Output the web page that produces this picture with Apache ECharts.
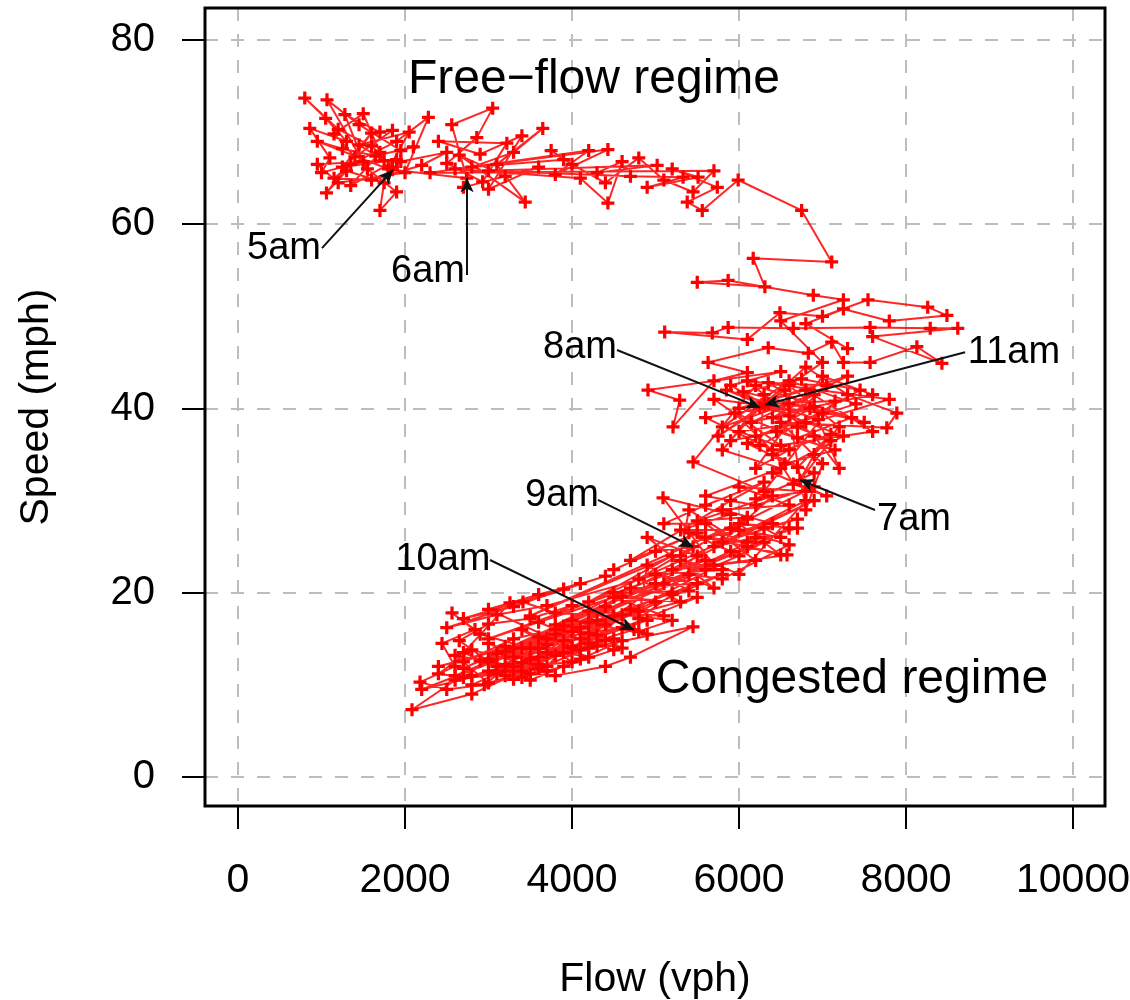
<!DOCTYPE html>
<html>
<head>
<meta charset="utf-8">
<script src="https://cdn.jsdelivr.net/npm/echarts@6/dist/echarts.min.js"></script>
<style>
  html, body { margin: 0; padding: 0; background: #fff; }
  #chart { width: 1130px; height: 1000px; }
</style>
</head>
<body>
<div id="chart"></div>
<script>
// flow (vph), speed (mph), one block per hour
const seg5am = [
  [1850, 66.2], [1600, 68.5], [1200, 70.3], [800, 73.7], [1050, 71.5], [1300, 69.0], [860, 70.4],
  [1100, 67.2], [1000, 65.6], [1500, 66.8], [1280, 71.9], [1700, 70.0], [1850, 70.2], [1400, 67.3],
  [1150, 69.8], [1500, 72.0], [1700, 67.8], [1350, 64.2], [1900, 67.0], [1250, 66.2], [1600, 69.9],
  [1060, 63.4], [1300, 65.8], [1750, 64.5], [1700, 61.5], [1900, 63.5], [1550, 66.0], [1066, 73.5],
  [1450, 70.8], [1950, 68.0], [2100, 68.4], [1650, 67.4], [1250, 68.2], [950, 69.0], [1800, 66.0],
  [2050, 70.0], [1450, 68.6], [1750, 66.9], [950, 66.5], [1200, 64.5],
  [2000, 65.6], [2280, 71.6], [1900, 69.0], [1350, 66.5], [1150, 65.0], [1600, 64.8], [2200, 66.4],
  [2500, 67.8], [1950, 66.8], [1850, 65.9]
];
const seg6am = [
  [2740, 65.0], [2560, 70.8], [3050, 72.6], [2860, 69.4], [2500, 66.6], [2930, 64.6], [3220, 68.8],
  [2400, 69.0], [2900, 67.6], [3400, 69.6], [3000, 63.8], [3600, 66.2], [2700, 64.0], [3200, 65.2],
  [2650, 67.5], [3440, 62.4], [3100, 66.5], [3650, 70.4], [3300, 67.8], [2800, 66.2], [3900, 67.0],
  [3750, 68.0], [4000, 66.5], [4400, 64.5], [4800, 67.2], [5100, 64.8], [5450, 63.5], [5700, 65.8],
  [2300, 65.6], [4200, 68.0], [3800, 65.4], [4430, 68.1], [2600, 66.0], [4100, 65.0], [4430, 62.3],
  [4600, 66.8], [4300, 65.6], [5020, 66.4], [3000, 65.8], [4700, 65.2], [5330, 65.1], [4900, 64.0],
  [5510, 65.1], [5200, 66.0], [5740, 64.0], [5380, 62.4], [5560, 61.5], [5990, 64.8], [6750, 61.5],
  [7110, 55.9], [6170, 56.3], [6310, 53.2], [5500, 53.7], [5870, 53.9], [6890, 52.3], [7250, 51.8],
  [6500, 49.5], [7000, 45.0], [6600, 42.5], [7200, 38.0], [6900, 35.0], [6730, 32.2]
];
const seg7am = [
  [7100, 36.5], [6400, 39.0], [6900, 41.5], [5800, 38.0], [6600, 43.0], [7400, 40.5], [6200, 37.0],
  [7000, 39.5], [5700, 41.0], [6500, 36.0], [7600, 37.5], [6800, 42.0], [6000, 40.0], [7300, 43.5],
  [6150, 38.5], [6850, 40.0], [6350, 42.8], [7050, 42.5], [6450, 37.5], [7150, 35.5], [6550, 34.0],
  [5950, 39.5], [6700, 36.8], [7350, 39.0], [6050, 41.8], [6750, 43.2], [7450, 42.0], [6250, 36.0],
  [6300, 41.5], [5900, 36.5], [6700, 38.0], [7800, 41.0], [6100, 43.0], [6900, 37.0], [7200, 33.5],
  [6950, 38.8], [5850, 42.0], [6600, 39.2], [7250, 37.0], [6400, 33.0], [7050, 30.5], [6650, 31.8],
  [6400, 35.5], [5600, 39.0], [6600, 40.5], [7500, 38.5], [6200, 42.5], [5450, 34.2], [6300, 31.0],
  [7150, 40.8], [6350, 40.5], [5750, 37.0], [6550, 42.0],
  [6800, 29.0], [7000, 34.0], [6500, 38.5], [7770, 37.9], [7890, 39.5], [7300, 41.5], [6800, 44.5],
  [6250, 40.1]
];
const seg8am = [
  [5800, 35.5], [6500, 33.5], [5600, 30.5], [6200, 29.5], [6900, 31.5], [5900, 27.0], [6500, 26.0],
  [6300, 27.0], [6700, 28.0], [5800, 25.5], [6400, 30.5], [5500, 27.8], [6100, 28.2], [5300, 24.0],
  [5400, 29.0], [6100, 25.0], [6575, 24.1], [5700, 23.0], [5090, 30.3], [5900, 28.5], [5300, 26.8],
  [6000, 26.8], [6600, 25.2], [5800, 21.5], [5400, 22.0], [6200, 26.0], [5700, 25.0], [6800, 30.0],
  [6000, 22.0], [5500, 24.0], [4900, 26.0], [5700, 20.5], [5200, 22.5], [6200, 23.5], [5600, 27.5],
  [5100, 27.5], [5600, 29.5], [6300, 32.0], [5900, 30.0], [4700, 23.5], [5500, 26.5], [4500, 22.5],
  [5000, 24.5], [5450, 25.0]
];
const seg9am = [
  [4800, 21.5], [5300, 19.0], [4500, 19.5], [5100, 17.5], [4200, 18.0], [4900, 15.5], [4000, 17.0],
  [4600, 14.0], [3800, 15.5], [4400, 16.5], [3600, 14.0], [4200, 13.0], [3400, 16.0], [4000, 12.5],
  [3000, 11.5], [3600, 12.2], [3300, 14.0], [3900, 16.4], [4300, 17.0], [4700, 18.2], [4100, 13.8],
  [3500, 11.2], [2900, 12.6], [3200, 13.6], [3700, 15.0], [4200, 15.6], [4600, 16.2], [4000, 14.2],
  [3300, 13.0], [3900, 14.8], [3100, 12.0], [3700, 11.5], [3000, 14.5], [3500, 12.8], [2800, 11.0],
  [3400, 12.4], [2800, 13.8], [2400, 11.2], [2700, 10.8], [3100, 13.4], [3600, 13.0], [4100, 16.2],
  [3400, 10.8], [2700, 13.5], [3257, 18.9], [3413, 19.0], [3800, 17.8], [4500, 17.5], [4100, 15.0],
  [4500, 13.8], [3900, 12.0], [3300, 10.6], [2650, 14.8], [3000, 16.6], [3500, 17.2], [4000, 18.6],
  [3600, 16.8], [4300, 14.2], [5449, 16.3], [4700, 13.0], [4400, 12.0], [3800, 11.0], [3200, 11.5],
  [4400, 14.8], [3800, 13.2],
  [2900, 15.5], [2563, 17.8], [2838, 16.0], [2443, 14.5], [2600, 12.0], [2180, 10.3], [2500, 9.5],
  [2950, 10.0], [3500, 14.0], [4000, 15.8], [4743, 16.0]
];
const seg10am = [
  [4200, 14.5], [3700, 13.5], [3100, 11.2], [2600, 10.5], [2084, 7.3], [2800, 9.0], [3400, 11.5],
  [3900, 13.5], [4500, 15.0], [3600, 15.2], [3000, 12.8], [3500, 10.5], [4100, 12.8], [4600, 14.8],
  [2200, 9.5], [5200, 20.0], [2600, 11.0], [6000, 24.0], [3000, 12.5], [6600, 27.0], [3400, 14.0],
  [5800, 22.0], [2800, 10.0], [4800, 18.0], [2400, 12.0], [5500, 19.5], [3200, 11.0], [6300, 25.5],
  [3800, 16.5], [6900, 30.0], [4200, 19.0], [5200, 24.0], [3500, 17.5], [6100, 28.0], [4000, 14.0],
  [3000, 18.2], [3600, 19.8], [4100, 21.0], [2700, 17.2], [3300, 18.5], [3900, 20.4], [4400, 21.8],
  [2500, 16.2], [3100, 17.6], [3700, 18.6],
  [5600, 23.5], [3000, 15.0], [5000, 21.0], [2700, 11.8], [4600, 19.6], [3300, 12.0], [4900, 17.0],
  [4300, 15.4], [3700, 14.4], [3200, 12.2], [2600, 13.2], [3000, 10.2], [3600, 11.8], [4200, 14.0],
  [4200, 16.8], [3700, 12.0], [3200, 14.2], [2700, 12.5], [3300, 15.0], [3800, 16.0], [4400, 18.5],
  [4800, 15.8], [5200, 17.0], [4600, 17.6], [5000, 19.0], [4500, 20.0], [5400, 20.2], [4900, 23.0],
  [4800, 17.2], [5200, 19.8], [4700, 20.5], [5500, 21.0], [5000, 22.0], [5800, 22.5], [5300, 23.5],
  [5600, 22.5], [5100, 21.0], [5900, 24.5], [5400, 26.5], [6500, 24.1], [6000, 27.5], [6700, 27.0],
  [6100, 25.5], [5600, 26.0], [6400, 27.5], [5800, 29.0], [6600, 29.5], [6000, 31.5], [6800, 31.0],
  [6200, 30.2], [6900, 33.0], [6400, 35.0], [7100, 37.2], [6700, 33.6], [6100, 36.2], [6900, 40.2],
  [7600, 41.5], [7000, 43.5],
  [6200, 33.5], [6600, 35.5], [6000, 37.5], [6800, 38.5], [6311, 40.4]
];
const seg11am = [
  [5900, 42.5], [6500, 44.0], [4910, 42.0], [5290, 40.9], [5210, 38.0], [5700, 43.0], [6100, 43.9],
  [5630, 45.0], [6350, 46.6], [6830, 46.0], [7110, 47.2], [7250, 45.0], [7570, 45.0], [8130, 46.7],
  [8430, 44.9], [7600, 47.8], [8620, 48.7], [8290, 48.7], [7570, 48.8], [6650, 48.7], [5870, 48.8],
  [5680, 48.2], [5110, 48.3], [6100, 47.5], [6490, 50.4], [7000, 50.0], [7545, 51.8], [8260, 51.0],
  [8490, 50.1], [7800, 49.5], [7250, 50.8], [6800, 49.2], [7300, 46.5]
];

const xTicks = [0, 2000, 4000, 6000, 8000, 10000];
const yTicks = [0, 20, 40, 60, 80];

// label, text x, text y, arrow from x, from y, arrow to x, to y
const hourNotes = [
  ['5am', 551, 57.4, 1006, 57.4, 1856, 65.9],
  ['6am', 2275, 54.9, 2743, 54.5, 2743, 65.0],
  ['8am', 4096, 46.6, 4539, 46.35, 6251, 40.1],
  ['11am', 9293, 46.1, 8707, 46.1, 6311, 40.4],
  ['9am', 3880, 30.6, 4311, 30.07, 5449, 24.97],
  ['10am', 2455, 23.6, 3018, 23.55, 4743, 15.96],
  ['7am', 8096, 27.9, 7629, 28.98, 6731, 32.24]
];
const regimeNotes = [
  ['Free\u2212flow regime', 4263, 75.7],
  ['Congested regime', 7353, 10.5]
];

const font = 'Liberation Sans, Arial, Helvetica, sans-serif';
const path = seg5am.concat(seg6am, seg7am, seg8am, seg9am, seg10am, seg11am);

let chart = echarts.init(document.getElementById('chart'));
let option = {
  animation: false,
  grid: {
    left: 205, right: 25, top: 8, bottom: 194,
    outerBoundsMode: 'none'
  },
  xAxis: {
    type: 'value',
    min: -395, max: 10383,
    minInterval: 1000, maxInterval: 1000,
    axisLine: { show: false, onZero: false },
    axisTick: {
      show: true, customValues: xTicks, length: 23,
      lineStyle: { color: '#000', width: 2 }
    },
    axisLabel: {
      customValues: xTicks, margin: 54,
      formatter: v => String(v),
      fontSize: 41, color: '#000', fontFamily: font
    },
    splitLine: {
      show: true,
      lineStyle: { color: '#bdbdbd', width: 2, type: [13, 13] }
    },
    name: 'Flow (vph)',
    nameLocation: 'middle',
    nameGap: 153,
    nameTextStyle: { fontSize: 41, color: '#000', fontFamily: font }
  },
  yAxis: {
    type: 'value',
    min: -3.15, max: 83.47,
    minInterval: 10, maxInterval: 10,
    axisLine: { show: false, onZero: false },
    axisTick: {
      show: true, customValues: yTicks, length: 23,
      lineStyle: { color: '#000', width: 2 }
    },
    axisLabel: {
      customValues: yTicks, margin: 50,
      formatter: v => String(v),
      fontSize: 40, color: '#000', fontFamily: font
    },
    splitLine: {
      show: true,
      lineStyle: { color: '#bdbdbd', width: 2, type: [13, 13] }
    },
    name: 'Speed (mph)',
    nameLocation: 'middle',
    nameGap: 148,
    nameTextStyle: { fontSize: 41, color: '#000', fontFamily: font }
  },
  series: [{
    type: 'line',
    data: path,
    showSymbol: true,
    showAllSymbol: true,
    symbol: 'path://M4.5,0H7.5V4.5H12V7.5H7.5V12H4.5V7.5H0V4.5H4.5Z',
    symbolSize: 13,
    itemStyle: { color: '#ff0000' },
    lineStyle: { color: '#ff0000', width: 2, opacity: 0.85 },
    emphasis: { disabled: true },
    silent: true,
    z: 3
  }, {
    type: 'scatter',
    symbolSize: 0,
    silent: true,
    z: 5,
    itemStyle: { opacity: 1 },
    data: hourNotes.map(n => ({ name: n[0], value: [n[1], n[2]] }))
      .concat(regimeNotes.map(n => ({ name: n[0], value: [n[1], n[2]], label: { fontSize: 48 } }))),
    label: {
      show: true, position: 'inside', formatter: '{b}', opacity: 1,
      fontSize: 38, color: '#000', fontFamily: font
    },
    markLine: {
      silent: true,
      symbol: ['none', 'arrow'],
      symbolSize: [10, 14],
      label: { show: false },
      lineStyle: { color: '#111', width: 2, type: 'solid', opacity: 1 },
      emphasis: { disabled: true },
      data: hourNotes.map(n => [{ coord: [n[3], n[4]] }, { coord: [n[5], n[6]] }])
    }
  }],
  graphic: [{
    type: 'rect',
    z: 100,
    silent: true,
    shape: { x: 205, y: 8, width: 900, height: 798 },
    style: { fill: 'none', stroke: '#000', lineWidth: 3 }
  }]
};
chart.setOption(option);
</script>
</body>
</html>
